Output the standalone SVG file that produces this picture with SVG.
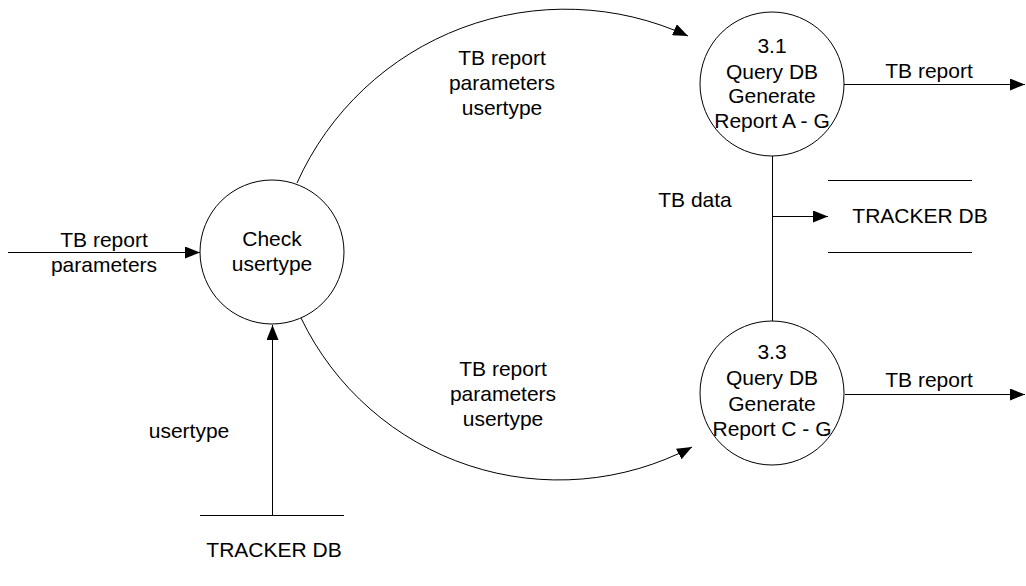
<svg xmlns="http://www.w3.org/2000/svg" width="1026" height="586" viewBox="0 0 1026 586">
<style>
text { font-family: "Liberation Sans", Arial, sans-serif; font-size: 21px; fill: #000; text-anchor: middle; }
.node { fill: #fff; stroke: #000; stroke-width: 1; }
.flow { fill: none; stroke: #000; stroke-width: 1; }
.store { stroke: #000; stroke-width: 1; }
</style>
<defs>
<marker id="arrow" viewBox="0 0 15 12" refX="15" refY="6" markerWidth="15" markerHeight="12" markerUnits="userSpaceOnUse" orient="auto">
<path d="M0,0 L15,6 L0,12 z" fill="#000"/>
</marker>
</defs>
<rect width="1026" height="586" fill="#fff"/>
<g id="connectors">
<path class="flow" d="M8,252.5 L200,252.5" marker-end="url(#arrow)"/>
<path class="flow" d="M297,183 A294,294 0 0 1 688,36" marker-end="url(#arrow)"/>
<path class="flow" d="M301,318 A286,286 0 0 0 692,447" marker-end="url(#arrow)"/>
<path class="flow" d="M272.5,515 L272.5,325" marker-end="url(#arrow)"/>
<path class="flow" d="M844,84.5 L1025,84.5" marker-end="url(#arrow)"/>
<path class="flow" d="M845,394.5 L1025,394.5" marker-end="url(#arrow)"/>
<path class="flow" d="M772.5,156 L772.5,321"/>
<path class="flow" d="M772.5,216.5 L828,216.5" marker-end="url(#arrow)"/>
<text x="104" y="247">TB report</text>
<text x="104" y="272">parameters</text>
<text x="502" y="65">TB report</text>
<text x="502" y="90">parameters</text>
<text x="502" y="115">usertype</text>
<text x="503" y="376">TB report</text>
<text x="503" y="401">parameters</text>
<text x="503" y="426">usertype</text>
<text x="189" y="438">usertype</text>
<text x="929" y="78">TB report</text>
<text x="929" y="387">TB report</text>
<text x="695" y="207">TB data</text>
</g>
<g id="check-usertype">
<circle class="node" cx="272" cy="252" r="72"/>
<text x="272" y="246">Check</text>
<text x="272" y="271">usertype</text>
</g>
<g id="node-3-1">
<circle class="node" cx="772" cy="84" r="72"/>
<text x="772" y="53">3.1</text>
<text x="772" y="79">Query DB</text>
<text x="772" y="103">Generate</text>
<text x="772" y="128">Report A - G</text>
</g>
<g id="node-3-3">
<circle class="node" cx="772" cy="393" r="72"/>
<text x="772" y="359">3.3</text>
<text x="772" y="385">Query DB</text>
<text x="772" y="411">Generate</text>
<text x="772" y="436">Report C - G</text>
</g>
<g id="tracker-db-bottom">
<line class="store" x1="200" y1="515.5" x2="344" y2="515.5"/>
<text x="274" y="557">TRACKER DB</text>
</g>
<g id="tracker-db-right">
<line class="store" x1="828" y1="180.5" x2="972" y2="180.5"/>
<line class="store" x1="828" y1="252.5" x2="972" y2="252.5"/>
<text x="920" y="223">TRACKER DB</text>
</g>
</svg>
